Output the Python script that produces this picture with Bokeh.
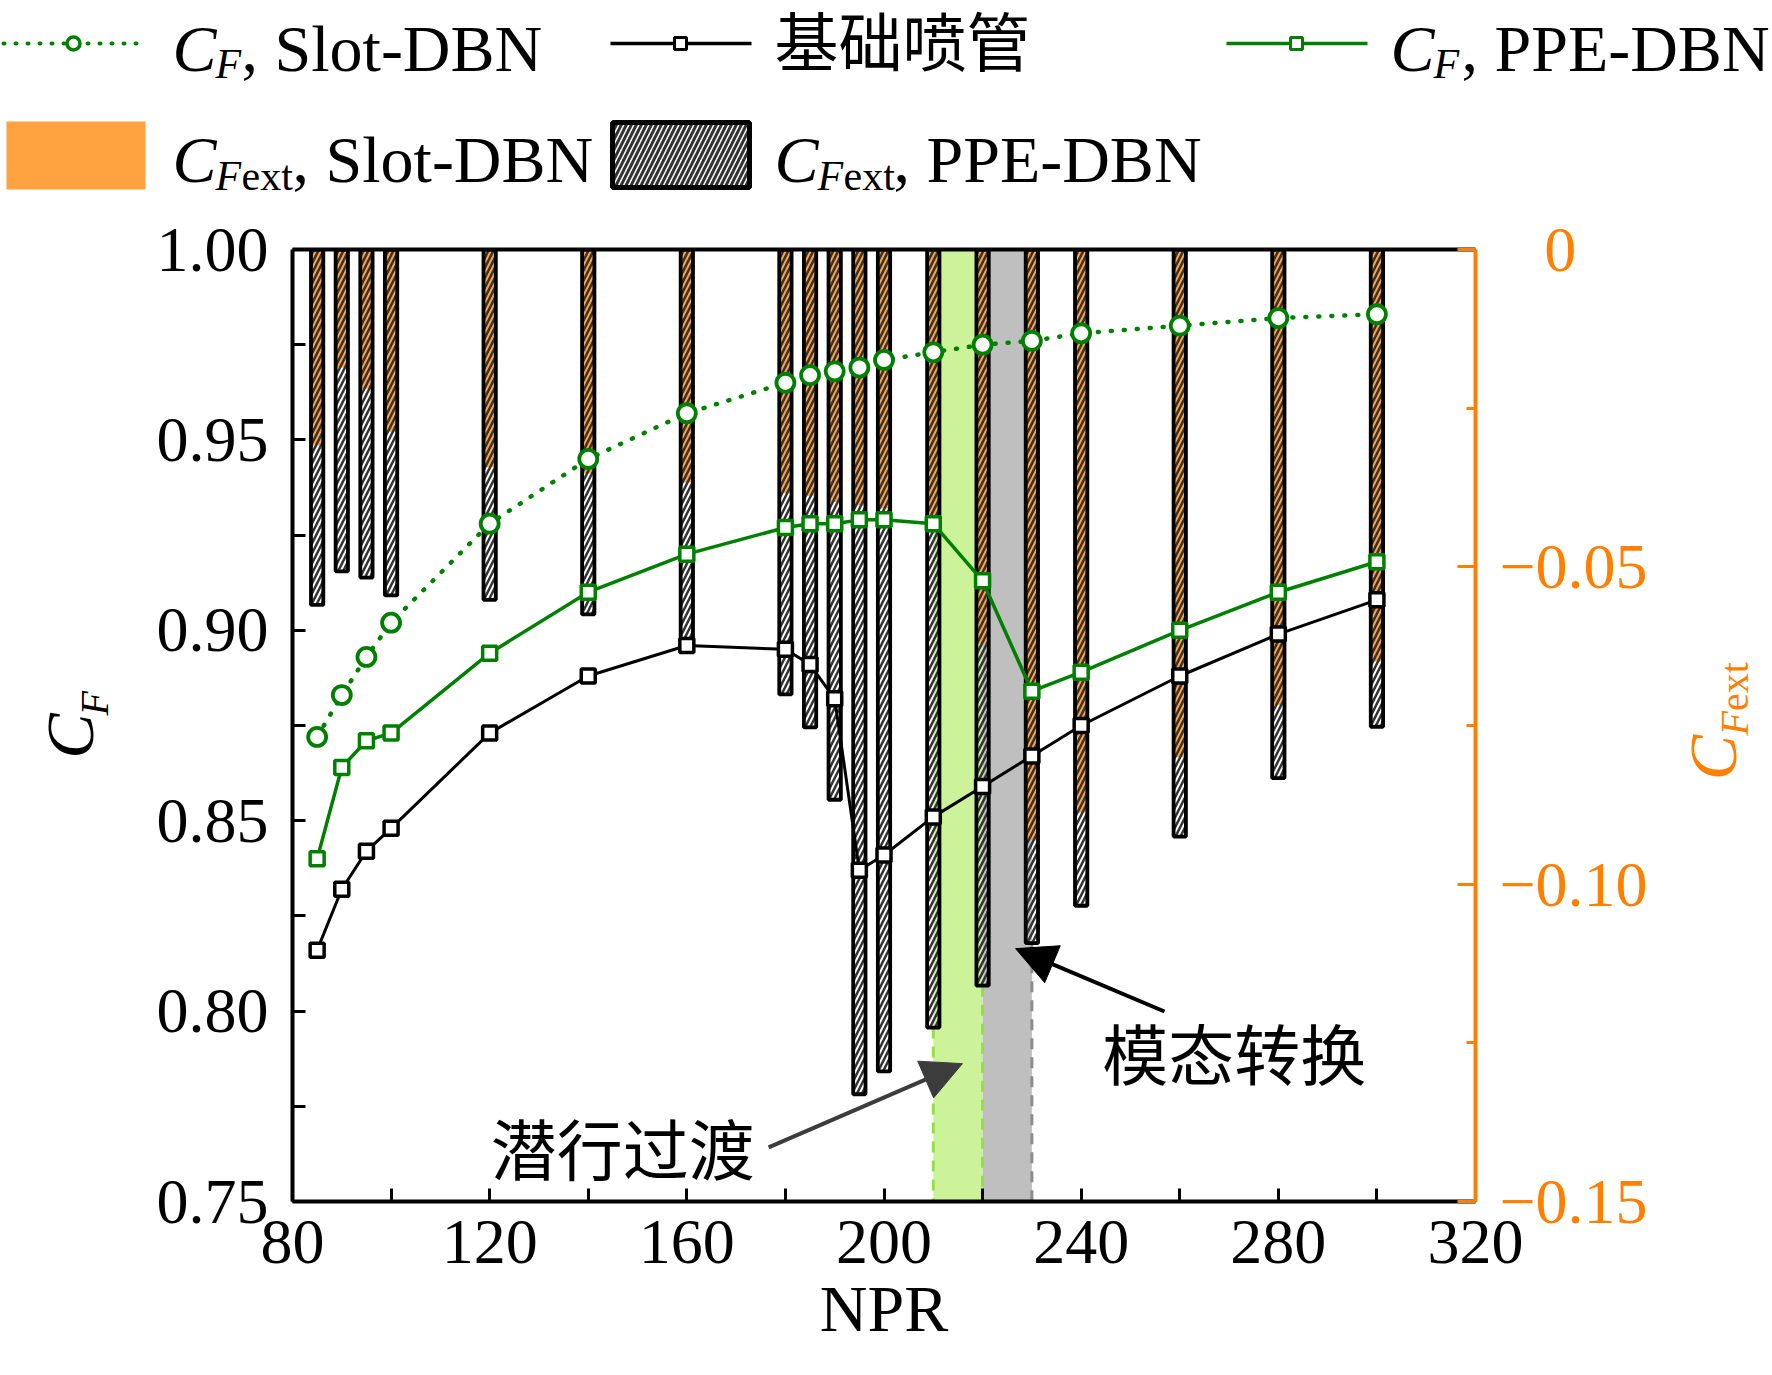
import math
from bokeh.plotting import figure
from bokeh.models import (Range1d, LinearAxis, FixedTicker, PrintfTickFormatter,
                          CustomJSTickFormatter, Label, Arrow, NormalHead, ColumnDataSource)
from bokeh.embed import file_html
from bokeh.resources import INLINE

# ---------------- data ----------------
npr = [85, 90, 95, 100, 120, 140, 160, 180, 185, 190, 195, 200, 210, 220, 230, 240, 260, 280, 300]
cf_slot = [0.872, 0.883, 0.893, 0.902, 0.928, 0.945, 0.957, 0.965, 0.967, 0.968, 0.969, 0.971,
           0.973, 0.975, 0.976, 0.978, 0.980, 0.982, 0.983]
cf_base = [0.816, 0.832, 0.842, 0.848, 0.873, 0.888, 0.896, 0.895, 0.891, 0.882, 0.837, 0.841,
           0.851, 0.859, 0.867, 0.875, 0.888, 0.899, 0.908]
cf_ppe = [0.840, 0.864, 0.871, 0.873, 0.894, 0.910, 0.920, 0.927, 0.928, 0.928, 0.929, 0.929,
          0.928, 0.913, 0.884, 0.889, 0.900, 0.910, 0.918]
cfext_slot = [-0.0309, -0.0186, -0.0219, -0.0287, -0.0343, -0.0353, -0.0367, -0.0384, -0.0388,
              -0.0398, -0.0403, -0.0408, -0.0446, -0.0621, -0.0931, -0.0887, -0.0800, -0.0718, -0.0649]
cfext_ppe = [-0.0560, -0.0507, -0.0517, -0.0545, -0.0552, -0.0575, -0.0617, -0.0701, -0.0753,
             -0.0867, -0.1331, -0.1295, -0.1226, -0.1160, -0.1093, -0.1034, -0.0925, -0.0833, -0.0752]

# transition regions (NPR)
band_left = [210, 220]
band_right = [220, 230]
marks_npr = [210, 220, 230]

x_ticks = [80, 120, 160, 200, 240, 280, 320]
x_minor = [100, 140, 180, 220, 260, 300]
y_ticks = [0.75, 0.80, 0.85, 0.90, 0.95, 1.00]
y_minor = [0.775, 0.825, 0.875, 0.925, 0.975]
ext_ticks = [-0.15, -0.10, -0.05, 0.0]
ext_minor = [-0.125, -0.075, -0.025]

X_MIN, X_MAX = 80, 320
Y_MIN, Y_MAX = 0.75, 1.00
E_MIN, E_MAX = -0.15, 0.0

# ---------------- styles ----------------
SERIF = "Liberation Serif"
CJK = "Noto Sans CJK SC"
CJK_STACK = "'Liberation Serif', 'Noto Sans CJK SC'"
GREEN = "#008000"
ORANGE_AX = "#FF8000"
ORANGE_BAR = "#FFA23F"
HATCH = "#333333"
BAND_COLORS = ["#CCF29A", "#BFBFBF"]
DASH_COLORS = ["#96DE48", "#96DE48", "#8C8C8C"]
FS = 66        # legend / label font (px)
TFS = "64px"   # tick label font
MID = 0.3375   # distance baseline -> middle anchor, in em


def ltext(fig, x, y, text, size=FS, style="normal", font=SERIF, color="black",
          angle=0.0, place=None):
    lab = Label(x=x, y=y, text=text, text_font=font, text_font_size=f"{size}px",
                text_font_style=style, text_baseline="middle", text_align="left",
                text_color=color, angle=angle)
    if place is None:
        fig.add_layout(lab)
    else:
        fig.add_layout(lab, place)


# ---------------- legend figure (own root, pixel coordinates, y downwards) ----------------
LW, LH = 1772, 200
leg = figure(width=LW, height=LH, x_range=Range1d(0, LW), y_range=Range1d(LH, 0),
             toolbar_location=None, output_backend="svg", min_border=0,
             x_axis_location=None, y_axis_location=None)
leg.grid.visible = False
leg.outline_line_color = None

# row 1 samples
leg.line([3, 140], [43, 43], line_color=GREEN, line_width=4, line_dash="1 11", line_cap="round")
leg.scatter([73], [43], marker="circle", size=13, fill_color="white", line_color=GREEN, line_width=3.5)
leg.line([610, 751], [43, 43], line_color="black", line_width=3.5)
leg.scatter([680], [43], marker="square", size=12, fill_color="white", line_color="black", line_width=3)
leg.line([1226, 1367], [43, 43], line_color=GREEN, line_width=3.5)
leg.scatter([1296], [43], marker="square", size=12, fill_color="white", line_color=GREEN, line_width=3)
# row 2 samples
leg.quad(left=[6], right=[145], top=[121], bottom=[189], fill_color=ORANGE_BAR, line_color=None)
leg.quad(left=[612], right=[749], top=[122], bottom=[187], fill_color="white",
         hatch_pattern="/", hatch_color=HATCH, hatch_scale=10, hatch_weight=3,
         line_color="black", line_width=5)


def lg(x, base, text, size=FS, style="normal"):
    ltext(leg, x, base - MID * size, text, size=size, style=style)


B1, B2 = 70, 181
lg(172, B1, "C", style="italic")
lg(215, B1 + 8, "F", size=42, style="italic")
lg(241, B1, ", Slot-DBN")
ltext(leg, 774, 44, "基础喷管", size=64, font=CJK_STACK)
lg(1390, B1, "C", style="italic")
lg(1433, B1 + 8, "F", size=42, style="italic")
lg(1461, B1, ", PPE-DBN")

lg(172, B2, "C", style="italic")
lg(215, B2 + 9, "F", size=42, style="italic")
lg(241, B2 + 9, "ext", size=42)
lg(292, B2, ", Slot-DBN")
lg(774, B2, "C", style="italic")
lg(817, B2 + 9, "F", size=42, style="italic")
lg(843, B2 + 9, "ext", size=42)
lg(893, B2, ", PPE-DBN")

# ---------------- main figure ----------------
MW, MH = 1772, 1175
p = figure(width=MW, height=MH, x_range=Range1d(X_MIN, X_MAX), y_range=Range1d(Y_MIN, Y_MAX),
           toolbar_location=None, output_backend="svg",
           min_border_left=292, min_border_right=297, min_border_top=49, min_border_bottom=174)
p.extra_y_ranges = {"ext": Range1d(E_MIN, E_MAX)}
p.grid.visible = False
p.outline_line_color = None

xa = p.xaxis[0]
xa.ticker = FixedTicker(ticks=x_ticks, minor_ticks=x_minor)
xa.axis_label = "NPR"
ya = p.yaxis[0]
ya.ticker = FixedTicker(ticks=y_ticks, minor_ticks=y_minor)
ya.formatter = PrintfTickFormatter(format="%.2f")

for ax in (xa, ya):
    ax.axis_line_color = "black"
    ax.axis_line_width = 4
    ax.major_tick_line_color = "black"
    ax.minor_tick_line_color = "black"
    ax.major_tick_line_width = 3
    ax.minor_tick_line_width = 3
    ax.major_tick_in = 13
    ax.major_tick_out = 0
    ax.minor_tick_in = 13
    ax.minor_tick_out = 0
    ax.major_label_text_font = SERIF
    ax.major_label_text_font_size = TFS
    ax.major_label_text_color = "black"
ya.major_label_standoff = 24
xa.major_label_standoff = 19
xa.axis_label_text_font = SERIF
xa.axis_label_text_font_size = f"{FS}px"
xa.axis_label_text_font_style = "normal"
xa.axis_label_text_color = "black"
xa.axis_label_standoff = 6

ra = LinearAxis(y_range_name="ext",
                ticker=FixedTicker(ticks=ext_ticks, minor_ticks=ext_minor),
                formatter=CustomJSTickFormatter(
                    code="return Math.abs(tick) < 1e-9 ? '\\u2002\\u20090' : '\\u2212' + Math.abs(tick).toFixed(2);"))
ra.axis_line_color = ORANGE_AX
ra.axis_line_width = 4
ra.major_tick_line_color = ORANGE_AX
ra.minor_tick_line_color = ORANGE_AX
ra.major_tick_line_width = 3
ra.minor_tick_line_width = 3
ra.major_tick_in = 18
ra.major_tick_out = 0
ra.minor_tick_in = 9
ra.minor_tick_out = 0
ra.major_label_text_font = SERIF
ra.major_label_text_font_size = TFS
ra.major_label_text_color = ORANGE_AX
ra.major_label_standoff = 24
p.add_layout(ra, "right")

ta = LinearAxis(ticker=FixedTicker(ticks=[]), major_label_text_font_size="0px",
                major_label_standoff=0, major_tick_out=0, minor_tick_out=0)
ta.axis_line_color = "black"
ta.axis_line_width = 4
ta.major_tick_line_color = None
ta.minor_tick_line_color = None
p.add_layout(ta, "above")

# transition bands
p.quad(left=band_left, right=band_right, bottom=E_MIN, top=E_MAX, y_range_name="ext",
       fill_color=BAND_COLORS, line_color=None)

idx = [npr.index(v) for v in marks_npr]
dsrc = ColumnDataSource(dict(x=marks_npr, y0=[cfext_ppe[i] for i in idx],
                             y1=[E_MIN] * len(idx), c=DASH_COLORS))
p.segment(x0="x", y0="y0", x1="x", y1="y1", source=dsrc, y_range_name="ext",
          line_color="c", line_width=3, line_dash="11 8")

# bars
BW = 2.5
p.vbar(x=npr, top=0, bottom=cfext_slot, width=BW, y_range_name="ext",
       fill_color=ORANGE_BAR, line_color=None)
p.vbar(x=npr, top=0, bottom=cfext_ppe, width=BW, y_range_name="ext",
       fill_alpha=0, hatch_pattern="/", hatch_color=HATCH, hatch_scale=10, hatch_weight=2.5,
       line_color="black", line_width=3.8)

# lines
p.line(npr, cf_slot, line_color=GREEN, line_width=4.5, line_dash="1 12", line_cap="round")
p.line(npr, cf_base, line_color="black", line_width=3)
p.line(npr, cf_ppe, line_color=GREEN, line_width=3.5)
p.scatter(npr, cf_slot, marker="circle", size=18, fill_color="white", line_color=GREEN, line_width=3.8)
p.scatter(npr, cf_base, marker="square", size=14, fill_color="white", line_color="black", line_width=3.5)
p.scatter(npr, cf_ppe, marker="square", size=14, fill_color="white", line_color=GREEN, line_width=3.5)

# annotations
p.add_layout(Arrow(end=NormalHead(size=40, fill_color="#3C3C3C", line_color="#3C3C3C"),
                   x_start=176.6, y_start=0.7642, x_end=215.9, y_end=0.7862,
                   line_color="#3C3C3C", line_width=4))
p.add_layout(Arrow(end=NormalHead(size=40, fill_color="black", line_color="black"),
                   x_start=256.9, y_start=0.7999, x_end=226.7, y_end=0.8164,
                   line_color="black", line_width=4))
ltext(p, 120.2, 0.7646, "潜行过渡", font=CJK)
ltext(p, 244.3, 0.7894, "模态转换", font=CJK)

# axis titles with subscripts, spread over the side panels so that nothing is clipped
UP = math.pi / 2
ltext(p, 34.96, 0.8663, "C", size=68, style="italic", angle=UP, place="left")
ltext(p, 39.93, 0.8776, "F", size=40, style="italic", angle=UP, place="above")
ltext(p, 368.1, 0.8606, "C", size=68, style="italic", angle=UP, color=ORANGE_AX, place="right")
ltext(p, 372.45, 0.8724, "F", size=40, style="italic", angle=UP, color=ORANGE_AX, place="right")
ltext(p, 372.45, 0.8788, "ext", size=40, angle=UP, color=ORANGE_AX, place="left")

open("out.html", "w").write(file_html([leg, p], INLINE))
